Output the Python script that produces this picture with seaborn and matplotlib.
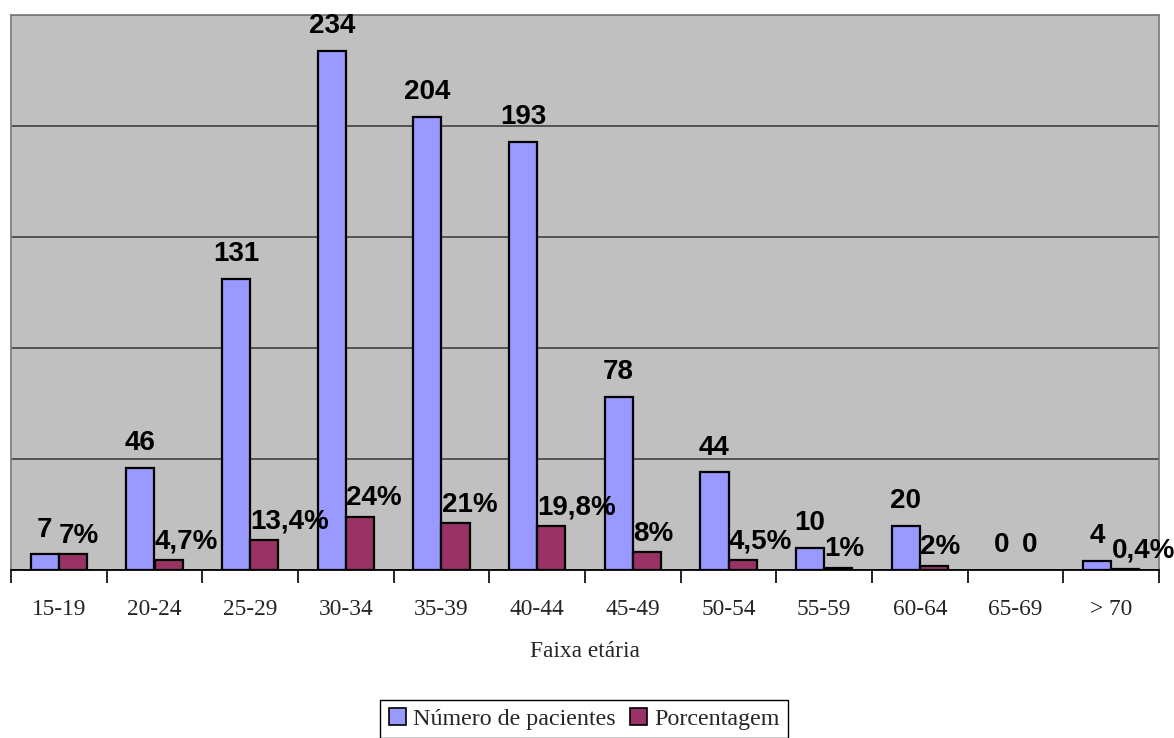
import matplotlib
matplotlib.use("Agg")
import matplotlib.pyplot as plt
import seaborn as sns
import pandas as pd
import numpy as np

categorias = ["15-19", "20-24", "25-29", "30-34", "35-39", "40-44",
              "45-49", "50-54", "55-59", "60-64", "65-69", "> 70"]
pacientes = [7, 46, 131, 234, 204, 193, 78, 44, 10, 20, 0, 4]
porcentagem = [7, 4.7, 13.4, 24, 21, 19.8, 8, 4.5, 1, 2, 0, 0.4]
rotulos_pac = ["7", "46", "131", "234", "204", "193", "78", "44", "10", "20", "0", "4"]
rotulos_pct = ["7%", "4,7%", "13,4%", "24%", "21%", "19,8%", "8%", "4,5%", "1%", "2%", "0", "0,4%"]
series = ["Número de pacientes", "Porcentagem"]

df = pd.DataFrame({
    "faixa": categorias * 2,
    "valor": pacientes + porcentagem,
    "serie": [series[0]] * len(categorias) + [series[1]] * len(categorias),
})

sns.set_theme(style="white")
plt.rcParams["font.family"] = ["Liberation Serif", "DejaVu Serif"]

fig = plt.figure(figsize=(11.74, 7.38), dpi=100)
ax = fig.add_axes([11 / 1174, 1 - 570 / 738, (1159 - 11) / 1174, (570 - 15) / 738])
ax.set_facecolor("#C0C0C0")

sns.barplot(data=df, x="faixa", y="valor", hue="serie", order=categorias,
            hue_order=series, palette=["#9999FF", "#993366"], width=0.59,
            edgecolor="black", linewidth=1.6, saturation=1, ax=ax, legend=True,
            zorder=3)

# hide outlines of zero-height bars
for cont in ax.containers:
    for bar in cont:
        if bar.get_height() == 0:
            bar.set_linewidth(0)

ax.set_ylim(0, 250)
ax.set_xlim(-0.5, len(categorias) - 0.5)
ax.set_yticks(np.arange(0, 251, 50))
ax.yaxis.grid(True, color="#4a4a4a", linewidth=1.3, zorder=0)
ax.set_axisbelow(True)
ax.tick_params(axis="y", left=False, labelleft=False)

ax.set_xticks(np.arange(-0.5, len(categorias), 1.0), minor=True)
ax.tick_params(axis="x", which="minor", bottom=True, length=9, width=1.2, color="black", direction="out")
ax.tick_params(axis="x", which="major", bottom=False, length=0, pad=21, labelsize=16.8)
for lbl in ax.get_xticklabels():
    lbl.set_fontfamily(["Liberation Serif"])

for side in ["left", "top", "right"]:
    ax.spines[side].set_color("#808080")
    ax.spines[side].set_linewidth(1.3)
ax.spines["bottom"].set_color("black")
ax.spines["bottom"].set_linewidth(1.3)

ax.set_ylabel("")
ax.set_xlabel("Faixa etária", fontsize=16.8, labelpad=15, fontfamily="Liberation Serif")

bold = dict(fontsize=20, fontweight="bold", fontfamily="Liberation Sans", color="black")
cont_pac, cont_pct = ax.containers[0], ax.containers[1]
for bar, txt in zip(cont_pac, rotulos_pac):
    x = bar.get_x() + bar.get_width() / 2
    h = bar.get_height()
    ax.annotate(txt, (x, h), xytext=(0, 8.5), textcoords="offset points",
                ha="center", va="bottom", annotation_clip=False, **bold)
for bar, txt in zip(cont_pct, rotulos_pct):
    x = bar.get_x() + bar.get_width() / 2
    h = bar.get_height()
    if txt == "0":
        ax.annotate(txt, (x, h), xytext=(0, 8.5), textcoords="offset points",
                    ha="center", va="bottom", annotation_clip=False, **bold)
    else:
        ax.annotate(txt, (x, h), xytext=(-10, 4), textcoords="offset points",
                    ha="left", va="bottom", annotation_clip=False, **bold)

leg = ax.legend_
handles = leg.legend_handles
leg.remove()
for hnd in handles:
    hnd.set_edgecolor("black")
    hnd.set_linewidth(1.2)
leg = fig.legend(handles, series, loc="center", bbox_to_anchor=(584 / 1174, 1 - 719 / 738),
                 ncol=2, frameon=True, fancybox=False, framealpha=1, edgecolor="black",
                 handlelength=0.7, handleheight=0.7, handletextpad=0.3, columnspacing=0.6,
                 borderpad=0.35, prop={"family": "Liberation Serif", "size": 17.3})
leg.get_frame().set_linewidth(1.0)

fig.savefig("out.png", dpi=100, facecolor="white")
